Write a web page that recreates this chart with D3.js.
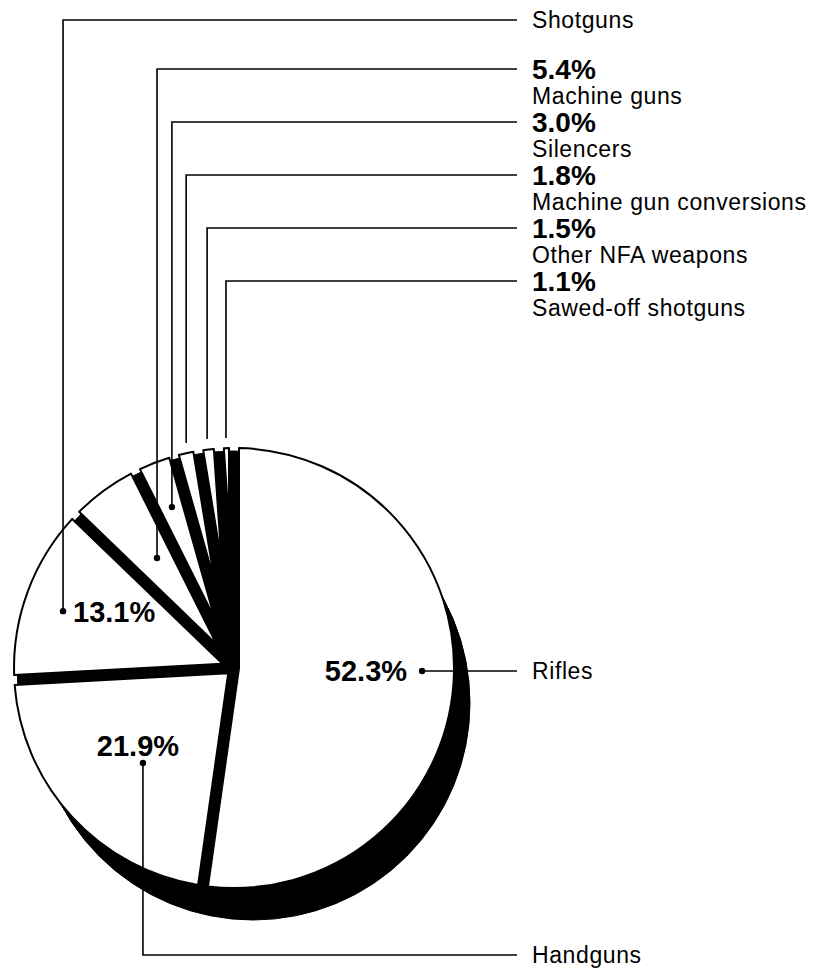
<!DOCTYPE html>
<html><head><meta charset="utf-8">
<script src="https://cdn.jsdelivr.net/npm/d3@7"></script>
<style>
body{margin:0;background:#fff}
svg{display:block}
text{font-family:"Liberation Sans",Arial,Helvetica,sans-serif;fill:#000}
</style>
</head><body>
<svg id="c" width="813" height="972"></svg>
<script>
// ---- data ----
const categories = ["Rifles","Handguns","Shotguns","Machine guns","Silencers","Machine gun conversions","Other NFA weapons","Sawed-off shotguns"];
const shares = [52.3, 21.9, 13.1, 5.4, 3.0, 1.8, 1.5, 1.1];
const shareLabels = ["52.3%","21.9%","13.1%","5.4%","3.0%","1.8%","1.5%","1.1%"];

// ---- layout ----
const CX = 234, CY = 668, R = 220;
const GAP = 10;                 // constant width of the gap between slices
const DEPTH = [19, 35], STEPS = 24, BASE_INSET = 3;
const LINE_END = 517, TEXT_X = 532;
// leader anchors: angle (deg), radius fraction, dot?, route, row y
const leaders = [
  {a: 90.9,  rf: 0.855, dot: true,  kind: "right", rowY: null},
  {a: 223.8, rf: 0.598, dot: true,  kind: "down",  rowY: 955},
  {a: 288.4, rf: 0.819, dot: true,  kind: "up",    rowY: 20},
  {a: 325.0, rf: 0.61,  dot: true,  kind: "up",    rowY: 69},
  {a: 338.9, rf: 0.784, dot: true,  kind: "up",    rowY: 122},
  {a: 348.0, rf: 1.046, dot: false, kind: "up",    rowY: 175},
  {a: 353.3, rf: 1.048, dot: false, kind: "up",    rowY: 228},
  {a: 358.0, rf: 1.046, dot: false, kind: "up",    rowY: 281}
];

const data = categories.map((c, i) => ({name: c, v: shares[i], label: shareLabels[i]}));
const pie = d3.pie().sort(null).value(d => d.v);
const arcs = pie(data);

const h = GAP / 2;
// tops: wedges with parallel (constant-width) gaps; the apex moves out along the bisector
const topArc = d3.arc()
  .outerRadius(R)
  .innerRadius(d => h / Math.sin(Math.min(Math.PI / 2, (d.endAngle - d.startAngle) / 2)))
  .padAngle(2 * Math.asin(h / R))
  .padRadius(R);

const svg = d3.select("#c");
const gPie = svg.append("g");

// pie body (black), seen through the gaps and as the rim at lower right
const baseArc = d3.arc().innerRadius(0).outerRadius(R - BASE_INSET).startAngle(0).endAngle(2 * Math.PI);
for (let k = STEPS; k >= 0; k--) {
  gPie.append("path").attr("d", baseArc())
    .attr("transform", `translate(${CX + DEPTH[0] * k / STEPS},${CY + DEPTH[1] * k / STEPS})`)
    .attr("fill", "#000").attr("stroke", "#000").attr("stroke-width", 1);
}

// white tops
gPie.selectAll("path.top").data(arcs).join("path")
  .attr("class", "top")
  .attr("d", topArc)
  .attr("transform", `translate(${CX},${CY})`)
  .attr("fill", "#fff").attr("stroke", "#000").attr("stroke-width", 2)
  .attr("stroke-linejoin", "round");

// ---- leaders and labels ----
const gLab = svg.append("g");
arcs.forEach((d, i) => {
  const L = leaders[i];
  const a = L.a * Math.PI / 180;
  const px = CX + Math.sin(a) * R * L.rf;
  const py = CY - Math.cos(a) * R * L.rf;
  const pts = L.kind === "right" ? [[px, py], [LINE_END, py]]
                                 : [[px, py], [px, L.rowY], [LINE_END, L.rowY]];
  gLab.append("path").attr("d", d3.line()(pts)).attr("fill", "none")
    .attr("stroke", "#000").attr("stroke-width", 1.6);
  if (L.dot) gLab.append("circle").attr("cx", px).attr("cy", py).attr("r", 3.2).attr("fill", "#000");

  const name = d.data.name, pct = d.data.label;
  const nameText = (x, y) => gLab.append("text").attr("x", x).attr("y", y)
    .attr("font-size", 23).attr("letter-spacing", 0.6).text(name);
  if (i === 0) {
    nameText(TEXT_X, py + 8);
    gLab.append("text").attr("x", px - 15).attr("y", py + 10).attr("text-anchor", "end")
      .attr("font-size", 29).attr("font-weight", "bold").text(pct);
  } else if (i === 1) {
    nameText(TEXT_X, L.rowY + 8);
    gLab.append("text").attr("x", px - 5).attr("y", py - 7).attr("text-anchor", "middle")
      .attr("font-size", 29).attr("font-weight", "bold").text(pct);
  } else if (i === 2) {
    nameText(TEXT_X, L.rowY + 8);
    gLab.append("text").attr("x", px + 10).attr("y", py + 11)
      .attr("font-size", 29).attr("font-weight", "bold").text(pct);
  } else {
    gLab.append("text").attr("x", TEXT_X).attr("y", L.rowY + 10)
      .attr("font-size", 28).attr("font-weight", "bold").text(pct);
    nameText(TEXT_X, L.rowY + 35);
  }
});
</script>
</body></html>
